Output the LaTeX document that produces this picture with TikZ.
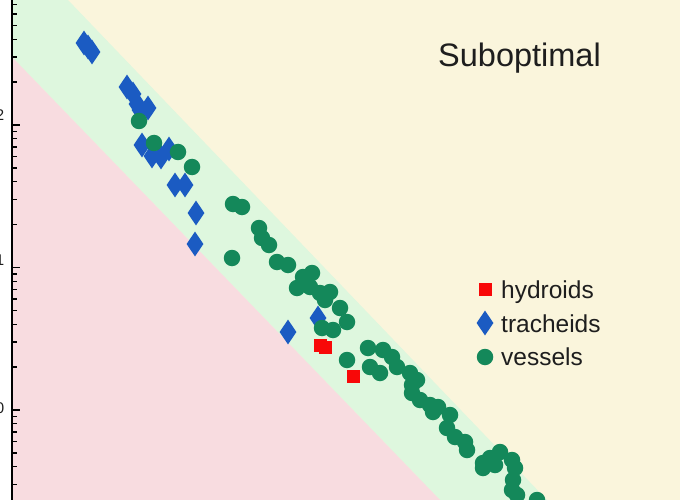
\documentclass[tikz,border=0pt]{standalone}
\usepackage{fontspec}
\setmainfont{Liberation Sans}
\usetikzlibrary{shapes.geometric}

\definecolor{cream}{HTML}{FAF5DC}
\definecolor{bandgreen}{HTML}{DEF7DE}
\definecolor{lowpink}{HTML}{F8DCE0}
\definecolor{vesselgreen}{HTML}{14885A}
\definecolor{tracheidblue}{HTML}{1B5BC2}
\definecolor{hydroidred}{HTML}{F80808}
\definecolor{inktext}{HTML}{1E1E1E}

\begin{document}
\begin{tikzpicture}[x=1pt,y=-1pt]
        \edef\decade{142.5}
        \tikzstyle{vessel}=[circle,fill=vesselgreen,minimum size=16.5pt,inner sep=0pt]
        \tikzstyle{tracheid}=[diamond,fill=tracheidblue,minimum width=17pt,minimum height=25pt,inner sep=0pt]
        \tikzstyle{hydroid}=[rectangle,fill=hydroidred,minimum size=13pt,inner sep=0pt]
        \tikzstyle{legtext}=[anchor=base west,inner sep=0pt,text=inktext,font=\fontsize{24.5}{25}\selectfont]
        \tikzstyle{expo}=[anchor=base east,inner sep=0pt,text=inktext,font=\fontsize{15.5}{16}\selectfont]

        \useasboundingbox (0,0) rectangle (680,500);
        \clip (0,0) rectangle (680,500);

        % regions
        \fill[cream] (12,0) rectangle (680,500);
        \fill[bandgreen] (12,0) -- (68,0) -- (547,500) -- (440,500) -- (12,57) -- cycle;
        \fill[lowpink] (12,57) -- (440,500) -- (12,500) -- cycle;

        % tracheids
        \foreach \p [count=\i] in {(84,43),(88,47),(92,52),(127,87),(133,94),(137,104),(140,110),(148,108),
            (142,145),(152,156),(161,157),(169,149),(175,185),(185,185),(196,213),(195,244),(318,318),(288,332)}
            \node[tracheid] (t\i) at \p {};

        % vessels
        \foreach \p [count=\i] in {(139,121),(154,143),(178,152),(192,167),(233,204),(242,207),(259,228),(262,238),
            (269,245),(232,258),(277,262),(288,265),(303,277),(312,273),(297,288),(310,287),(320,293),(330,292),
            (325,300),(340,308),(347,322),(322,328),(333,330),(347,360),(368,348),(383,350),(392,357),(370,367),
            (380,373),(397,367),(410,373),(417,380),(412,385),(412,393),(420,400),(430,405),(438,407),(433,412),
            (450,415),(447,428),(455,437),(465,442),(467,450),(483,463),(490,458),(500,452),(483,468),(495,465),
            (512,460),(515,468),(513,480),(512,490),(517,495),(537,500)}
            \node[vessel] (v\i) at \p {};

        % hydroids
        \foreach \p [count=\i] in {(320,345),(325,347),(353,376)}
            \node[hydroid] (h\i) at \p {};

        % axis and log ticks
        \draw[line width=1.8pt] (12,0) -- (12,500);
        \foreach \m in {125,267.5,410}
            \draw[line width=1.6pt] (12,\m) -- (20,\m);
        \foreach \m in {-17.5,125,267.5,410}
            \foreach \k in {2,...,9}
                \draw[line width=1.3pt] (12,{\m+\decade*(1-ln(\k)/ln(10))}) -- ++(5,0);

        %exponents, cut at the edge
        \node[expo] (e2) at (4.5,121) {2};
        \node[expo] (e1) at (4.5,265) {1};
        \node[expo] (e0) at (4.5,413) {0};

        \node[anchor=base,inner sep=0pt,text=inktext,font=\fontsize{32.5}{33}\selectfont] (subopt) at (519.5,67) {Suboptimal};

        % legend
        \node[hydroid] (hkey) at (485,289) {};
        \node[tracheid] (tkey) at (485,323) {};
        \node[vessel] (vkey) at (485,357) {};
        \node[legtext] (hlab) at (501,298) {hydroids};
        \node[legtext] (tlab) at (501,332) {tracheids};
        \node[legtext] (vlab) at (501,365) {vessels};
\end{tikzpicture}
\end{document}
